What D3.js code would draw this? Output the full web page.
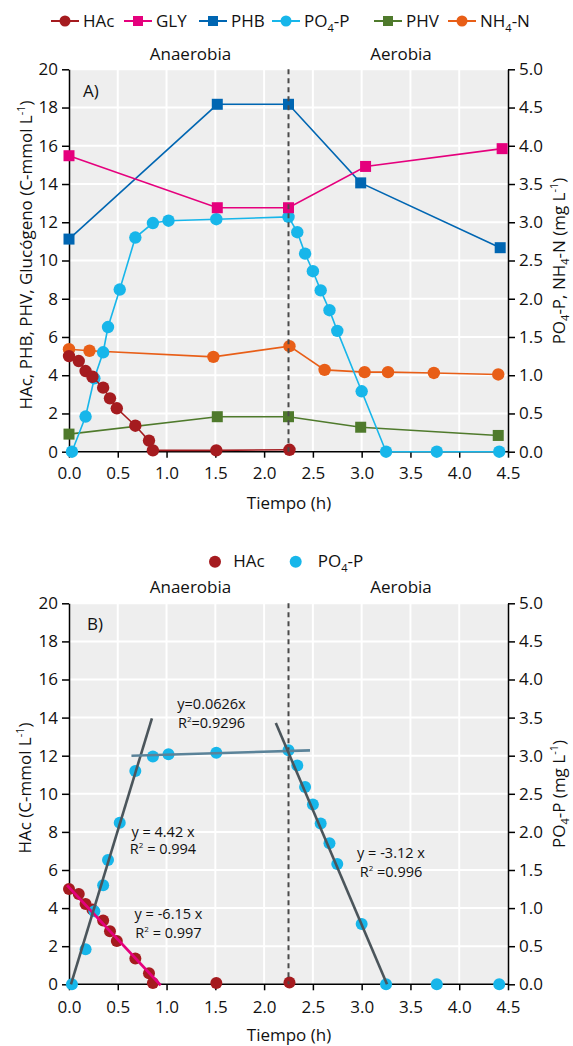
<!DOCTYPE html>
<html><head><meta charset="utf-8">
<script src="https://cdn.jsdelivr.net/npm/d3@7"></script>
<style>
html,body{margin:0;padding:0;background:#fff;}
svg text{font-family:"Open Sans",sans-serif;fill:#111;}
</style></head>
<body><svg id="c" width="573" height="1046"></svg>
<script>
// ---- Data ----
const hacT = [0, 0.10, 0.17, 0.24, 0.35, 0.42, 0.49, 0.68, 0.82, 0.86, 1.51, 2.26];
const hacV = [5.0, 4.74, 4.22, 3.92, 3.35, 2.79, 2.27, 1.36, 0.58, 0.07, 0.07, 0.10];
const glyT = [0, 1.52, 2.25, 3.04, 4.44];
const glyV = [15.48, 12.76, 12.76, 14.92, 15.85];
const phbT = [0, 1.52, 2.25, 2.99, 4.42];
const phbV = [11.12, 18.17, 18.17, 14.06, 10.67];
const phvT = [0, 1.52, 2.25, 2.99, 4.40];
const phvV = [0.92, 1.83, 1.83, 1.28, 0.85];
const po4T = [0.03, 0.17, 0.26, 0.35, 0.40, 0.52, 0.68, 0.86, 1.02, 1.51, 2.25, 2.34, 2.42, 2.50, 2.58, 2.67, 2.75, 3.00, 3.25, 3.77, 4.41];
const po4V = [0, 0.46, 0.96, 1.30, 1.63, 2.12, 2.80, 2.99, 3.02, 3.04, 3.07, 2.87, 2.59, 2.36, 2.11, 1.85, 1.58, 0.79, 0, 0, 0];
const nh4T = [0, 0.21, 1.48, 2.26, 2.62, 3.03, 3.27, 3.74, 4.40];
const nh4V = [1.34, 1.32, 1.24, 1.38, 1.07, 1.04, 1.04, 1.03, 1.01];

// regression lines of panel B (endpoints)
const hacFitT = [-0.02, 0.94], hacFitV = [5.2, -0.05];
const riseFitT = [0.02, 0.85], riseFitV = [0, 3.49];
const flatFitT = [0.64, 2.47], flatFitV = [3.0, 3.07];
const fallFitT = [2.12, 3.26], fallFitV = [3.43, 0];

const xTicks = [0, 0.5, 1, 1.5, 2, 2.5, 3, 3.5, 4, 4.5];
const yLeftTicks = [0, 2, 4, 6, 8, 10, 12, 14, 16, 18, 20];
const yRightTicks = [0, 0.5, 1, 1.5, 2, 2.5, 3, 3.5, 4, 4.5, 5];
const phaseTime = 2.25;

const C = {hac:"#a51b1f", gly:"#e5007d", phb:"#0066b2", po4:"#17b6ea", phv:"#4f7a2c", nh4:"#e85e17",
           fitGray:"#4b555b", fitBlue:"#5b8399"};

const svg = d3.select("#c");
const zip = (a,b)=>a.map((t,i)=>[t,b[i]]);

function panel(top, bottom, opts){
  const x = d3.scaleLinear().domain([0,4.5]).range([69,508]);
  const yL = d3.scaleLinear().domain([0,20]).range([bottom, top]);
  const yR = d3.scaleLinear().domain([0,5]).range([bottom, top]);
  const g = svg.append("g");
  g.append("rect").attr("x",x(0)).attr("y",top).attr("width",x(4.5)-x(0)).attr("height",bottom-top).attr("fill","#eeeeee");
  g.selectAll(".gh").data(yLeftTicks.slice(1)).join("line")
    .attr("x1",x(0)).attr("x2",x(4.5)).attr("y1",d=>yL(d)).attr("y2",d=>yL(d))
    .attr("stroke","#fff").attr("stroke-width",2);
  g.selectAll(".gv").data(xTicks.slice(1,-1)).join("line")
    .attr("y1",top).attr("y2",bottom).attr("x1",d=>x(d)).attr("x2",d=>x(d))
    .attr("stroke","#fff").attr("stroke-width",2);
  const ax = (sel)=>{sel.selectAll("path,line").attr("stroke","#000").attr("stroke-width",1.5);
                     sel.selectAll("text").style("font-size","17px").attr("fill","#111");};
  g.append("g").attr("transform",`translate(0,${bottom})`)
    .call(d3.axisBottom(x).tickValues(xTicks).tickFormat(d3.format(".1f")).tickSize(6).tickSizeOuter(0).tickPadding(opts.xPad))
    .call(ax).call(s=>s.select(".domain").attr("d",`M${x(0)},0H${x(4.5)}`));
  g.append("g").attr("transform",`translate(${x(0)},0)`)
    .call(d3.axisLeft(yL).tickValues(yLeftTicks).tickFormat(d3.format("d")).tickSize(7).tickSizeOuter(0).tickPadding(4))
    .call(ax);
  g.append("g").attr("transform",`translate(${x(4.5)},0)`)
    .call(d3.axisRight(yR).tickValues(yRightTicks).tickFormat(d3.format(".1f")).tickSize(7).tickSizeOuter(0).tickPadding(4))
    .call(ax);
  return {x,yL,yR,g,top,bottom};
}

function series(p, T, V, y, color, shape, r, line=true){
  const pts = zip(T,V);
  if(line){
    p.g.append("path").attr("d", d3.line().x(d=>p.x(d[0])).y(d=>y(d[1]))(pts))
      .attr("fill","none").attr("stroke",color).attr("stroke-width",1.6);
  }
  if(shape==="circle"){
    p.g.selectAll(null).data(pts).join("circle").attr("cx",d=>p.x(d[0])).attr("cy",d=>y(d[1]))
      .attr("r",r).attr("fill",color);
  } else {
    p.g.selectAll(null).data(pts).join("rect").attr("x",d=>p.x(d[0])-r).attr("y",d=>y(d[1])-r)
      .attr("width",2*r).attr("height",2*r).attr("fill",color);
  }
}

function dashed(p){
  p.g.append("line").attr("x1",p.x(phaseTime)).attr("x2",p.x(phaseTime)).attr("y1",p.top).attr("y2",p.bottom)
    .attr("stroke","#4a4a4a").attr("stroke-width",2).attr("stroke-dasharray","5,4");
}

function txt(x,y,s,size,anchor){
  return svg.append("text").attr("x",x).attr("y",y).style("font-size",size+"px").attr("text-anchor",anchor||"start").text(s);
}

// ---------- Panel A ----------
const A = panel(69.3, 451.7, {xPad:9});
series(A, nh4T, nh4V, A.yR, C.nh4, "circle", 6.2);
series(A, phvT, phvV, A.yL, C.phv, "rect", 5.5);
series(A, po4T, po4V, A.yR, C.po4, "circle", 6.2);
series(A, phbT, phbV, A.yL, C.phb, "rect", 5.5);
series(A, glyT, glyV, A.yL, C.gly, "rect", 5.5);
series(A, hacT, hacV, A.yL, C.hac, "circle", 6.2);
dashed(A);

txt(83, 97, "A)", 17);
txt(190.5, 60, "Anaerobia", 17, "middle");
txt(401, 60, "Aerobia", 17, "middle");
txt(289, 508.5, "Tiempo (h)", 17, "middle");

// legend A
const legA = [
  {k:"HAc", c:C.hac, s:"circle", x:51},
  {k:"GLY", c:C.gly, s:"rect", x:124},
  {k:"PHB", c:C.phb, s:"rect", x:199},
  {k:"PO4-P", c:C.po4, s:"circle", x:272},
  {k:"PHV", c:C.phv, s:"rect", x:374},
  {k:"NH4-N", c:C.nh4, s:"circle", x:448}
];
legA.forEach(d=>{
  const cy = 21;
  svg.append("line").attr("x1",d.x).attr("x2",d.x+28).attr("y1",cy).attr("y2",cy).attr("stroke",d.c).attr("stroke-width",2);
  if(d.s==="circle") svg.append("circle").attr("cx",d.x+14).attr("cy",cy).attr("r",5.5).attr("fill",d.c);
  else svg.append("rect").attr("x",d.x+14-5).attr("y",cy-5).attr("width",10).attr("height",10).attr("fill",d.c);
  const t = svg.append("text").attr("x",d.x+32).attr("y",26.7).style("font-size","17px");
  if(d.k==="PO4-P"){ t.append("tspan").text("PO"); t.append("tspan").attr("dy",5).style("font-size","11px").text("4"); t.append("tspan").attr("dy",-5).text("-P"); }
  else if(d.k==="NH4-N"){ t.append("tspan").text("NH"); t.append("tspan").attr("dy",5).style("font-size","11px").text("4"); t.append("tspan").attr("dy",-5).text("-N"); }
  else t.text(d.k);
});
// y titles A
{
  const t = svg.append("text").attr("transform","translate(32,255) rotate(-90)").attr("text-anchor","middle").style("font-size","17px");
  t.append("tspan").text("HAc, PHB, PHV, Glucógeno (C-mmol L");
  t.append("tspan").attr("dy",-7).style("font-size","11px").text("-1");
  t.append("tspan").attr("dy",7).text(")");
  const r = svg.append("text").attr("transform","translate(565,261) rotate(-90)").attr("text-anchor","middle").style("font-size","17px");
  r.append("tspan").text("PO");
  r.append("tspan").attr("dy",4).style("font-size","11px").text("4");
  r.append("tspan").attr("dy",-4).text("-P, NH");
  r.append("tspan").attr("dy",4).style("font-size","11px").text("4");
  r.append("tspan").attr("dy",-4).text("-N (mg L");
  r.append("tspan").attr("dy",-7).style("font-size","11px").text("-1");
  r.append("tspan").attr("dy",7).text(")");
}

// ---------- Panel B ----------
const B = panel(603.3, 984.3, {xPad:11});
series(B, hacT, hacV, B.yL, C.hac, "circle", 6, false);
series(B, po4T, po4V, B.yR, C.po4, "circle", 6, false);
dashed(B);
function fit(p, T, V, y, color){
  p.g.append("path").attr("d", d3.line().x(d=>p.x(d[0])).y(d=>y(d[1]))(zip(T,V)))
    .attr("stroke",color).attr("stroke-width",2.6).attr("fill","none");
}
fit(B, hacFitT, hacFitV, B.yL, C.gly);
fit(B, riseFitT, riseFitV, B.yR, C.fitGray);
fit(B, flatFitT, flatFitV, B.yR, C.fitBlue);
fit(B, fallFitT, fallFitV, B.yR, C.fitGray);

txt(87, 630, "B)", 17);
txt(190.5, 593, "Anaerobia", 17, "middle");
txt(401, 593, "Aerobia", 17, "middle");
txt(289, 1040.5, "Tiempo (h)", 17, "middle");

function eq(cx, y1, y2, s1, r2, sep){
  txt(cx, y1, s1, 14.5, "middle");
  const t = svg.append("text").attr("x",cx).attr("y",y2).attr("text-anchor","middle").style("font-size","14.5px");
  t.append("tspan").text("R");
  t.append("tspan").attr("dy",-6).style("font-size","8px").text("2");
  t.append("tspan").attr("dy",6).text(sep + r2);
}
eq(211.5, 708.5, 727.5, "y=0.0626x", "0.9296", "=");
eq(163, 836.5, 854, "y = 4.42 x", "0.994", " = ");
eq(168.5, 919, 938, "y = -6.15 x", "0.997", " = ");
eq(391, 858, 877, "y = -3.12 x", "0.996", " =");

// legend B
svg.append("circle").attr("cx",215).attr("cy",561.7).attr("r",6).attr("fill",C.hac);
txt(233.3, 567, "HAc", 17);
svg.append("circle").attr("cx",295.7).attr("cy",561.7).attr("r",6).attr("fill",C.po4);
{
  const t = svg.append("text").attr("x",317.7).attr("y",567).style("font-size","17px");
  t.append("tspan").text("PO"); t.append("tspan").attr("dy",5).style("font-size","11px").text("4"); t.append("tspan").attr("dy",-5).text("-P");
}
{
  const t = svg.append("text").attr("transform","translate(31,788) rotate(-90)").attr("text-anchor","middle").style("font-size","17px");
  t.append("tspan").text("HAc (C-mmol L");
  t.append("tspan").attr("dy",-7).style("font-size","11px").text("-1");
  t.append("tspan").attr("dy",7).text(")");
  const r = svg.append("text").attr("transform","translate(565,794) rotate(-90)").attr("text-anchor","middle").style("font-size","17px");
  r.append("tspan").text("PO");
  r.append("tspan").attr("dy",4).style("font-size","11px").text("4");
  r.append("tspan").attr("dy",-4).text("-P (mg L");
  r.append("tspan").attr("dy",-7).style("font-size","11px").text("-1");
  r.append("tspan").attr("dy",7).text(")");
}
</script></body></html>
